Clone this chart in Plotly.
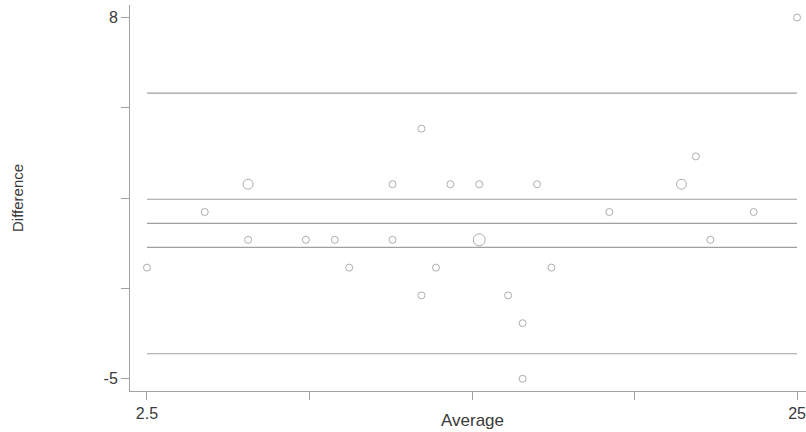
import plotly.graph_objects as go

# Data (Bland-Altman plot)
average = [2.5, 4.5, 6, 6, 8, 9, 9.5, 11, 11, 12, 12, 12.5, 13, 14, 14,
           15, 15.5, 15.5, 16, 16.5, 18.5, 21, 21.5, 22, 23.5, 25]
difference = [-1, 1, 2, 0, 0, 0, -1, 2, 0, 4, -2, -1, 2, 2, 0,
              -2, -3, -5, 2, -1, 1, 2, 3, 0, 1, 8]
counts = [1, 1, 2, 1, 1, 1, 1, 1, 1, 1, 1, 1, 1, 1, 3,
          1, 1, 1, 1, 1, 1, 2, 1, 1, 1, 1]

mean_diff = 0.59
ci_lower, ci_upper = -0.27, 1.46
loa_lower, loa_upper = -4.10, 5.28
ref_lines = [loa_upper, ci_upper, mean_diff, ci_lower, loa_lower]

x_tickvals = [2.5, 8.125, 13.75, 19.375, 25]
x_ticktext = ["2.5", "", "", "", "25"]
y_tickvals = [-5, -1.75, 1.5, 4.75, 8]
y_ticktext = ["-5", "", "", "", "8"]

size_map = {1: 7, 2: 10, 3: 12}

fig = go.Figure()
x_min, x_max = min(average), max(average)
for yv in ref_lines:
    fig.add_trace(go.Scatter(x=[x_min, x_max], y=[yv, yv], mode="lines",
                             line=dict(color="#a0a0a0", width=1.2),
                             hoverinfo="skip", showlegend=False))

fig.add_trace(go.Scatter(
    x=average, y=difference, mode="markers", cliponaxis=False,
    marker=dict(symbol="circle-open", size=[size_map[c] for c in counts],
                color="#8c8c8c", line=dict(width=1)),
    showlegend=False))

font = dict(family="Liberation Sans, Arial, sans-serif", color="#3a3a3a")

fig.update_layout(
    width=806, height=432,
    margin=dict(l=130, r=0, t=5, b=41),
    paper_bgcolor="white", plot_bgcolor="white",
    font=dict(**font, size=16),
    xaxis=dict(range=[1.912, 25.31], tickvals=x_tickvals, ticktext=x_ticktext,
               showgrid=False, zeroline=False, showline=True,
               linecolor="#a0a0a0", linewidth=1, ticks="outside",
               ticklen=8, tickcolor="#a0a0a0", tickfont=dict(size=16),
               ticklabeloverflow="allow"),
    yaxis=dict(range=[-5.44, 8.45], tickvals=y_tickvals, ticktext=y_ticktext,
               showgrid=False, zeroline=False, showline=True,
               linecolor="#a0a0a0", linewidth=1, ticks="outside",
               ticklen=8, tickcolor="#a0a0a0", tickfont=dict(size=16),
               ticklabeloverflow="allow"),
    annotations=[
        dict(text="Average", xref="x", x=13.75, yref="paper", y=0,
             yshift=-29, xanchor="center", yanchor="middle",
             showarrow=False, font=dict(size=17)),
        dict(text="Difference", xref="paper", x=0, xshift=-113,
             yref="paper", y=0.5, xanchor="center", yanchor="middle",
             textangle=-90, showarrow=False, font=dict(size=15)),
    ],
)

fig.write_html("out.html",
               config={"displayModeBar": False},
               post_script="document.body.style.margin='0px';"
                           "document.body.style.overflow='hidden';")
